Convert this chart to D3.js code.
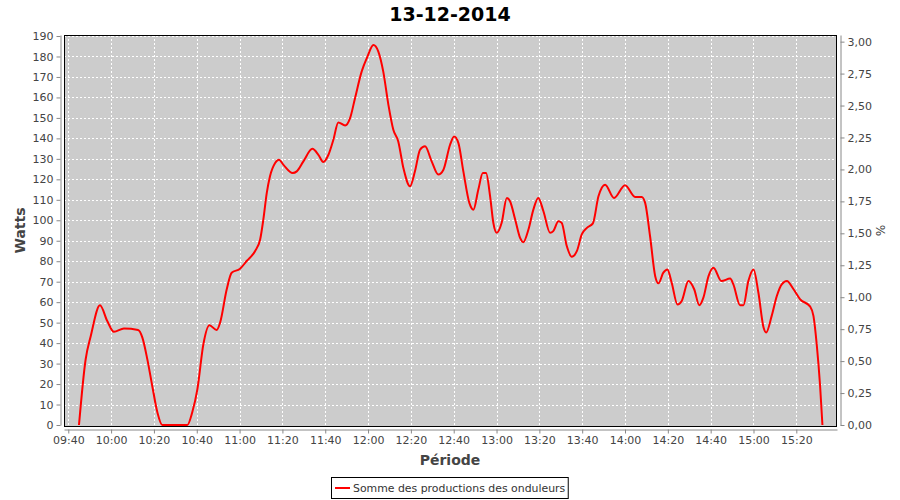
<!DOCTYPE html>
<html>
<head>
<meta charset="utf-8">
<script src="https://cdn.jsdelivr.net/npm/d3@7"></script>
<style>
  body { margin: 0; background: #fff; }
  svg { display: block; }
</style>
</head>
<body>
<svg id="chart" width="900" height="500"></svg>
<script>
const title = "13-12-2014";
const seriesName = "Somme des productions des onduleurs";
const xTitle = "Période";
const yTitle = "Watts";
const y2Title = "%";

const times = [
 "09:45:00","09:48:06","09:50:30","09:54:48","09:58:12","10:01:18","10:06:00","10:12:36","10:14:36","10:16:54",
 "10:19:12","10:21:36","10:23:54","10:35:36","10:37:54","10:40:18","10:43:06","10:45:54","10:49:18","10:50:54",
 "10:54:00","10:56:18","11:00:12","11:03:18","11:07:12","11:09:36","11:11:06","11:12:42","11:14:12","11:16:36",
 "11:18:24","11:20:24","11:24:48","11:26:42","11:29:48","11:34:00","11:36:48","11:39:06","11:41:30","11:43:48",
 "11:46:06","11:49:18","11:51:36","11:53:54","11:57:00","11:59:42","12:02:30","12:04:48","12:07:06","12:09:30",
 "12:11:48","12:14:06","12:16:30","12:19:36","12:21:54","12:24:18","12:26:36","12:29:42","12:32:48","12:35:12",
 "12:38:18","12:40:12","12:42:12","12:44:30","12:47:18","12:49:12","12:51:30","12:53:36","12:55:06","12:57:00",
 "12:58:30","13:00:06","13:02:24","13:04:48","13:06:18","13:08:42","13:11:00","13:12:30","13:14:54","13:17:12",
 "13:19:30","13:21:54","13:25:00","13:26:30","13:28:54","13:30:24","13:32:48","13:35:06","13:37:30","13:39:48",
 "13:42:12","13:45:00","13:47:36","13:50:42","13:54:54","14:00:00","14:04:42","14:07:48","14:09:24","14:11:42",
 "14:14:06","14:15:36","14:17:54","14:19:48","14:21:48","14:24:30","14:26:30","14:29:36","14:32:18","14:34:42",
 "14:36:36","14:39:00","14:41:18","14:45:00","14:49:06","14:50:36","14:53:42","14:55:18","14:57:36","15:00:00",
 "15:02:18","15:04:42","15:05:54","15:08:30","15:10:54","15:13:12","15:15:36","15:18:42","15:21:48","15:26:30",
 "15:28:00","15:29:36","15:31:06","15:32:12"
];
const watts = [
 0,32,43.5,58.5,50.8,45.5,47.1,46.4,42.7,32.2,
 19.2,6.2,0,0,6.2,17.5,39.5,48.7,46.4,50,
 66.3,74.4,76.3,80.1,84.9,90.6,100.4,113.4,121.5,128,
 129.6,127.2,123.1,123.9,128.8,134.9,132,128.5,132,139.3,
 147.8,146.3,149.9,159.6,172.6,179.9,185.6,182.4,172.6,156.4,
 144.2,138.5,125.5,116.6,123.9,134.5,136.1,128.8,122.3,124.7,
 136.9,140.9,137.7,123.9,108.5,105.2,115,123.1,123.1,111.7,
 98.8,93.9,98.8,110.9,109.3,100.4,91.4,89.3,95.5,105.2,
 110.9,104.4,93.9,94.7,99.5,98.8,87.4,82.2,84.9,93.1,
 96.3,98.5,111.7,117.4,110.9,117.1,111.4,111.4,108.5,92.2,
 72.7,69.2,74.4,76.0,69.5,58.9,60.6,70.3,66.3,58.5,
 62.2,72.7,76.8,70.3,71.5,68.7,58.5,58.5,70.3,76.0,
 64.6,47.6,45.2,53.3,63.0,68.7,70.3,66.3,61.4,57.8,
 53.3,38.6,19.2,0
];
const yTicks = [0,10,20,30,40,50,60,70,80,90,100,110,120,130,140,150,160,170,180,190];
const y2Ticks = [0,0.25,0.5,0.75,1,1.25,1.5,1.75,2,2.25,2.5,2.75,3];
const xDomain = ["09:38:00","15:39:00"];

const parse = d3.timeParse("%H:%M:%S");
const data = times.map((t,i) => ({t: parse(t), v: watts[i]}));

const svg = d3.select("#chart");
const L = 64, R = 837, T = 35, B = 426;

const x = d3.scaleTime().domain(xDomain.map(parse)).range([L, R]);
const y = d3.scaleLinear().domain([0, 190.5]).range([B - 1, T]);
const y2 = d3.scaleLinear().domain([0, 3.052]).range([B - 1, T]);

const font = "'DejaVu Sans', sans-serif";
const tickColor = "#444";

// plot background
svg.append("rect").attr("x", L).attr("y", T).attr("width", R-L).attr("height", B-T).attr("fill", "#cccccc");

// grid
const xTicks = d3.timeMinute.every(20).range(x.domain()[0], x.domain()[1]).filter(d => d.getMinutes() % 20 === 0);
const grid = svg.append("g");
grid.selectAll(".vg").data(xTicks).join("line")
  .attr("x1", d => Math.round(x(d)) + 0.5).attr("x2", d => Math.round(x(d)) + 0.5)
  .attr("y1", T).attr("y2", B)
  .attr("stroke", "#fff").attr("stroke-width", 1).attr("stroke-dasharray", "2,2");
grid.selectAll(".hg").data(yTicks.filter(d => d > 0)).join("line")
  .attr("x1", L).attr("x2", R)
  .attr("y1", d => Math.round(y(d)) + 0.5).attr("y2", d => Math.round(y(d)) + 0.5)
  .attr("stroke", "#fff").attr("stroke-width", 1).attr("stroke-dasharray", "2,2");

// plot border
svg.append("rect").attr("x", L+0.5).attr("y", T+0.5).attr("width", R-L-1).attr("height", B-T).attr("fill", "none")
  .attr("stroke", "#000").attr("stroke-width", 1);

// clip
svg.append("clipPath").attr("id", "clip").append("rect")
  .attr("x", L+1).attr("y", T+1).attr("width", R-L-2).attr("height", B-T);

const line = d3.line().x(d => x(d.t)).y(d => y(d.v)).curve(d3.curveMonotoneX);
svg.append("path").datum(data)
  .attr("clip-path", "url(#clip)")
  .attr("d", line).attr("fill", "none").attr("stroke", "#ff0000").attr("stroke-width", 2)
  .attr("stroke-linejoin", "round");

function styleAxis(g) {
  g.select(".domain").attr("stroke", "#888");
  g.selectAll(".tick line").attr("stroke", "#888");
  g.selectAll(".tick text").attr("fill", tickColor).attr("font-family", font).attr("font-size", "11px");
}

// left axis
const gy = svg.append("g").attr("transform", `translate(${L-3.5},0)`)
  .call(d3.axisLeft(y).tickValues(yTicks).tickSize(4).tickSizeOuter(0).tickPadding(3));
styleAxis(gy);

// right axis
const fmt2 = d => d3.format(".2f")(d).replace(".", ",");
const gy2 = svg.append("g").attr("transform", `translate(${R+3.5},0)`)
  .call(d3.axisRight(y2).tickValues(y2Ticks).tickFormat(fmt2).tickSize(4).tickSizeOuter(0).tickPadding(3));
styleAxis(gy2);

// bottom axis
const gx = svg.append("g").attr("transform", `translate(0,${B+3.5})`)
  .call(d3.axisBottom(x).tickValues(xTicks).tickFormat(d3.timeFormat("%H:%M")).tickSize(4).tickSizeOuter(0).tickPadding(3));
styleAxis(gx);

// titles
svg.append("text").attr("x", 450).attr("y", 21).attr("text-anchor", "middle")
  .attr("font-family", font).attr("font-weight", "bold").attr("font-size", "19px").attr("fill", "#000")
  .text(title);
svg.append("text").attr("x", 450).attr("y", 465).attr("text-anchor", "middle")
  .attr("font-family", font).attr("font-weight", "bold").attr("font-size", "14px").attr("fill", "#444")
  .text(xTitle);
svg.append("text").attr("transform", `translate(25,${(T+B)/2}) rotate(-90)`).attr("text-anchor", "middle")
  .attr("font-family", font).attr("font-weight", "bold").attr("font-size", "14px").attr("fill", "#444")
  .text(yTitle);
svg.append("text").attr("transform", `translate(876,${(T+B)/2}) rotate(90)`).attr("text-anchor", "middle")
  .attr("font-family", font).attr("font-size", "12px").attr("fill", "#444")
  .text(y2Title);

// legend
const lg = svg.append("g");
const legText = lg.append("text").attr("x", 353).attr("y", 492)
  .attr("font-family", font).attr("font-size", "10.9px").attr("fill", "#333").text(seriesName);
const tw = legText.node().getComputedTextLength();
lg.insert("rect", "text").attr("x", 331.5).attr("y", 477.5).attr("width", (353 + tw + 3) - 331.5).attr("height", 21)
  .attr("fill", "#fff").attr("stroke", "#000").attr("stroke-width", 1);
lg.append("line").attr("x1", 335).attr("x2", 350).attr("y1", 488).attr("y2", 488)
  .attr("stroke", "#ff0000").attr("stroke-width", 2);
</script>
</body>
</html>
